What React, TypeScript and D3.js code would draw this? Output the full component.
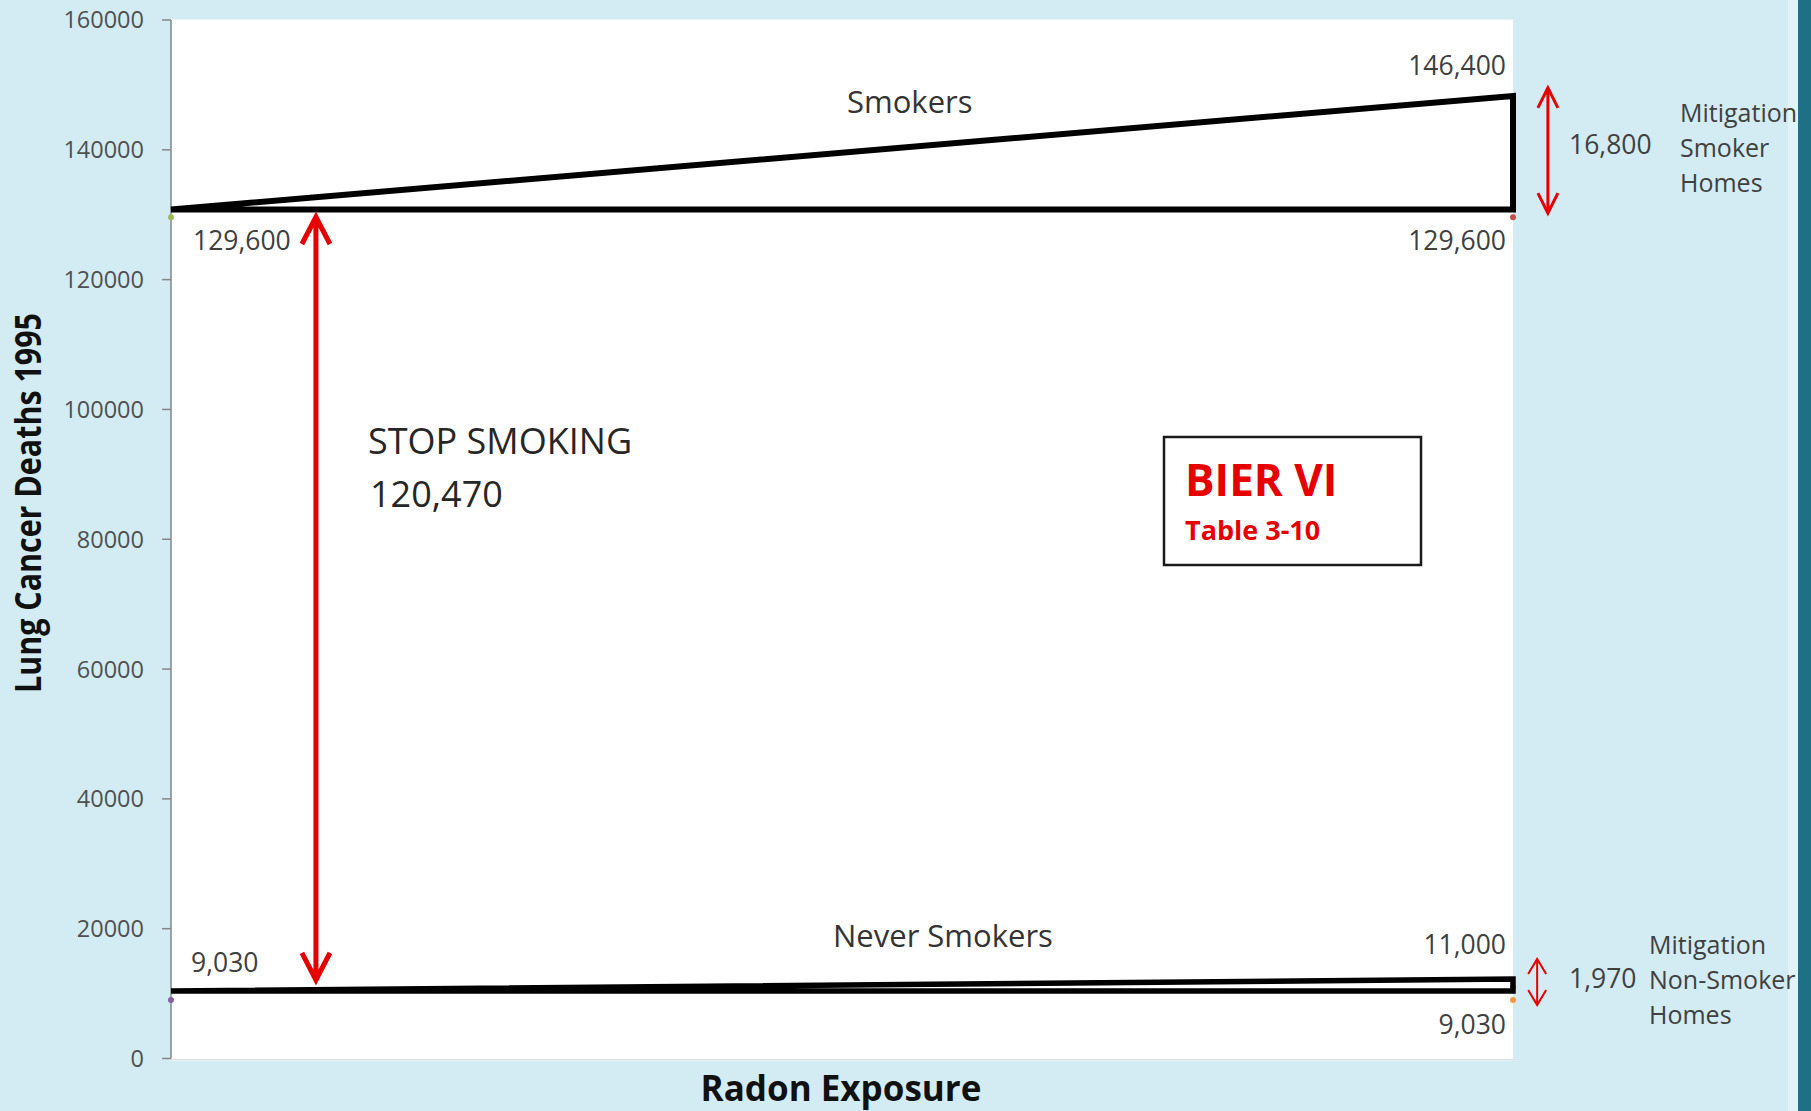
import React from "react";
import * as d3 from "d3";

// ---- data ----
const exposure = [0, 1]; // low / high radon exposure
const smokersBase = [129600, 129600];
const smokersMit = [129600, 146400];
const neverBase = [9030, 9030];
const neverMit = [9030, 11000];
const yTicks = [0, 20000, 40000, 60000, 80000, 100000, 120000, 140000, 160000];

// drawn outline shapes (data units)
const smokersOutline = [130800, 148300];
const neverOutline = [10400, 12250];

// annotation arrows (x in exposure units, y in deaths)
const stopArrow = { x: 0.108, from: 129650, to: 12100 };
const smokerArrow = { x: 1.026, from: 149550, to: 130250 };
const neverArrow = { x: 1.018, from: 15330, to: 8240 };

const stopValue = "120,470";
const smokerDiff = "16,800";
const neverDiff = "1,970";

const fmt = d3.format(",");

const W = 1811;
const H = 1111;
const FONT = "'Open Sans', 'Noto Sans', sans-serif";
const RED = "#e60000";

function Arrow({ x, y1, y2, sw, hw, hl }: { x: number; y1: number; y2: number; sw: number; hw: number; hl: number }) {
  const d = `M${x},${y1}L${x},${y2}M${x - hw},${y1 + hl}L${x},${y1}L${x + hw},${y1 + hl}M${x - hw},${y2 - hl}L${x},${y2}L${x + hw},${y2 - hl}`;
  return <path d={d} fill="none" stroke={RED} strokeWidth={sw} strokeLinejoin="miter" strokeLinecap="butt" />;
}

export default function App() {
  const x = d3.scaleLinear().domain([0, 1]).range([171, 1513]);
  const y = d3.scaleLinear().domain([0, 160000]).range([1058.5, 20]);

  const line = d3
    .line<[number, number]>()
    .x((d) => x(d[0]))
    .y((d) => y(d[1]));

  const outlinePath = (o: number[]) =>
    line([
      [exposure[0], o[0]],
      [exposure[1], o[0]],
      [exposure[1], o[1]],
    ]) + "Z";

  const markers = [
    { x: exposure[0], v: smokersBase[0], c: "#9bbb59" },
    { x: exposure[1], v: smokersBase[1], c: "#c0504d" },
    { x: exposure[1], v: smokersMit[1], c: "#7f7f7f" },
    { x: exposure[0], v: neverBase[0], c: "#8064a2" },
    { x: exposure[1], v: neverBase[1], c: "#f79646" },
    { x: exposure[1], v: neverMit[1], c: "#4bacc6" },
  ];

  const labelColor = "#404040";

  return (
    <div style={{ position: "absolute", left: 0, top: 0 }}>
      <svg width={W} height={H} style={{ display: "block" }}>
        <rect x={0} y={0} width={W} height={H} fill="#d3ecf4" />
        <rect x={1788} y={0} width={10} height={H} fill="#e2f4f8" />
        {/* plot area */}
        <rect x={x(0)} y={y(160000) - 0.5} width={x(1) - x(0)} height={y(0) - y(160000) + 2.5} fill="#ffffff" />
        {/* y axis */}
        <line x1={x(0)} x2={x(0)} y1={y(160000)} y2={y(0)} stroke="#868686" strokeWidth={1.5} />
        {yTicks.map((t) => (
          <g key={t}>
            <line x1={x(0) - 9} x2={x(0)} y1={y(t)} y2={y(t)} stroke="#868686" strokeWidth={1.5} />
            <text x={x(0) - 27} y={y(t)} dy="0.36em" textAnchor="end" fontFamily={FONT} fontSize={23.5} fill="#505050">
              {t}
            </text>
          </g>
        ))}
        <line x1={x(0)} x2={x(1)} y1={y(0) + 1} y2={y(0) + 1} stroke="#dcdcdc" strokeWidth={1} />

        {/* markers */}
        {markers.map((m, i) => (
          <circle key={i} cx={x(m.x)} cy={y(m.v)} r={3} fill={m.c} />
        ))}

        {/* outlines */}
        <path d={outlinePath(smokersOutline)} fill="none" stroke="#000" strokeWidth={6} strokeLinejoin="miter" strokeMiterlimit={4} />
        <path d={outlinePath(neverOutline)} fill="none" stroke="#000" strokeWidth={5.5} strokeLinejoin="miter" strokeMiterlimit={4} />

        {/* arrows */}
        <Arrow x={x(stopArrow.x)} y1={y(stopArrow.from)} y2={y(stopArrow.to)} sw={5} hw={14} hl={27} />
        <Arrow x={x(smokerArrow.x)} y1={y(smokerArrow.from)} y2={y(smokerArrow.to)} sw={3} hw={10} hl={20} />
        <Arrow x={x(neverArrow.x)} y1={y(neverArrow.from)} y2={y(neverArrow.to)} sw={2} hw={9} hl={15} />

        {/* data labels */}
        <g fontFamily={FONT} fontSize={26.5} fill={labelColor}>
          <text x={x(1) - 7} y={y(smokersMit[1]) - 33} textAnchor="end">{fmt(smokersMit[1])}</text>
          <text x={x(1) - 7} y={y(smokersBase[1]) + 33} textAnchor="end">{fmt(smokersBase[1])}</text>
          <text x={x(0) + 22} y={y(smokersBase[0]) + 33}>{fmt(smokersBase[0])}</text>
          <text x={x(1) - 7} y={y(neverMit[1]) - 33} textAnchor="end">{fmt(neverMit[1])}</text>
          <text x={x(1) - 7} y={y(neverBase[1]) + 34} textAnchor="end">{fmt(neverBase[1])}</text>
          <text x={x(0) + 20} y={y(neverBase[0]) - 28}>{fmt(neverBase[0])}</text>
          <text x={1569} y={154}>{smokerDiff}</text>
          <text x={1569} y={988}>{neverDiff}</text>
        </g>

        {/* side labels */}
        <g fontFamily={FONT} fontSize={25} fill={labelColor}>
          <text x={1680} y={122}>Mitigation</text>
          <text x={1680} y={157}>Smoker</text>
          <text x={1680} y={192}>Homes</text>
          <text x={1649} y={954}>Mitigation</text>
          <text x={1649} y={989}>Non-Smoker</text>
          <text x={1649} y={1024}>Homes</text>
        </g>

        {/* series labels */}
        <g fontFamily={FONT} fontSize={31} fill="#333333">
          <text x={847} y={113}>Smokers</text>
          <text x={833} y={947}>Never Smokers</text>
        </g>

        {/* stop smoking */}
        <g fontFamily={FONT} fontSize={36} fill="#262626">
          <text x={368} y={454}>STOP SMOKING</text>
          <text x={370} y={507}>{stopValue}</text>
        </g>

        {/* BIER VI box */}
        <rect x={1164} y={437} width={257} height={128} fill="#fff" stroke="#1a1a1a" strokeWidth={2.5} />
        <text x={1185} y={496} fontFamily={FONT} fontWeight={700} fontSize={44} fill={RED}>BIER VI</text>
        <text x={1185} y={540} fontFamily={FONT} fontWeight={700} fontSize={27} fill={RED}>Table 3-10</text>

        {/* axis titles */}
        <text x={841} y={1101} textAnchor="middle" fontFamily={FONT} fontWeight={700} fontSize={35} fill="#111">
          Radon Exposure
        </text>
        <text
          transform={`translate(41,503) rotate(-90)`}
          textAnchor="middle"
          fontFamily={FONT}
          fontWeight={700}
          fontSize={35}
          fill="#111"
          textLength={380}
          lengthAdjust="spacingAndGlyphs"
        >
          Lung Cancer Deaths 1995
        </text>

        {/* right edge bar (covers clipped text) */}
        <rect x={1798} y={0} width={13} height={H} fill="#1e7184" />
      </svg>
    </div>
  );
}
